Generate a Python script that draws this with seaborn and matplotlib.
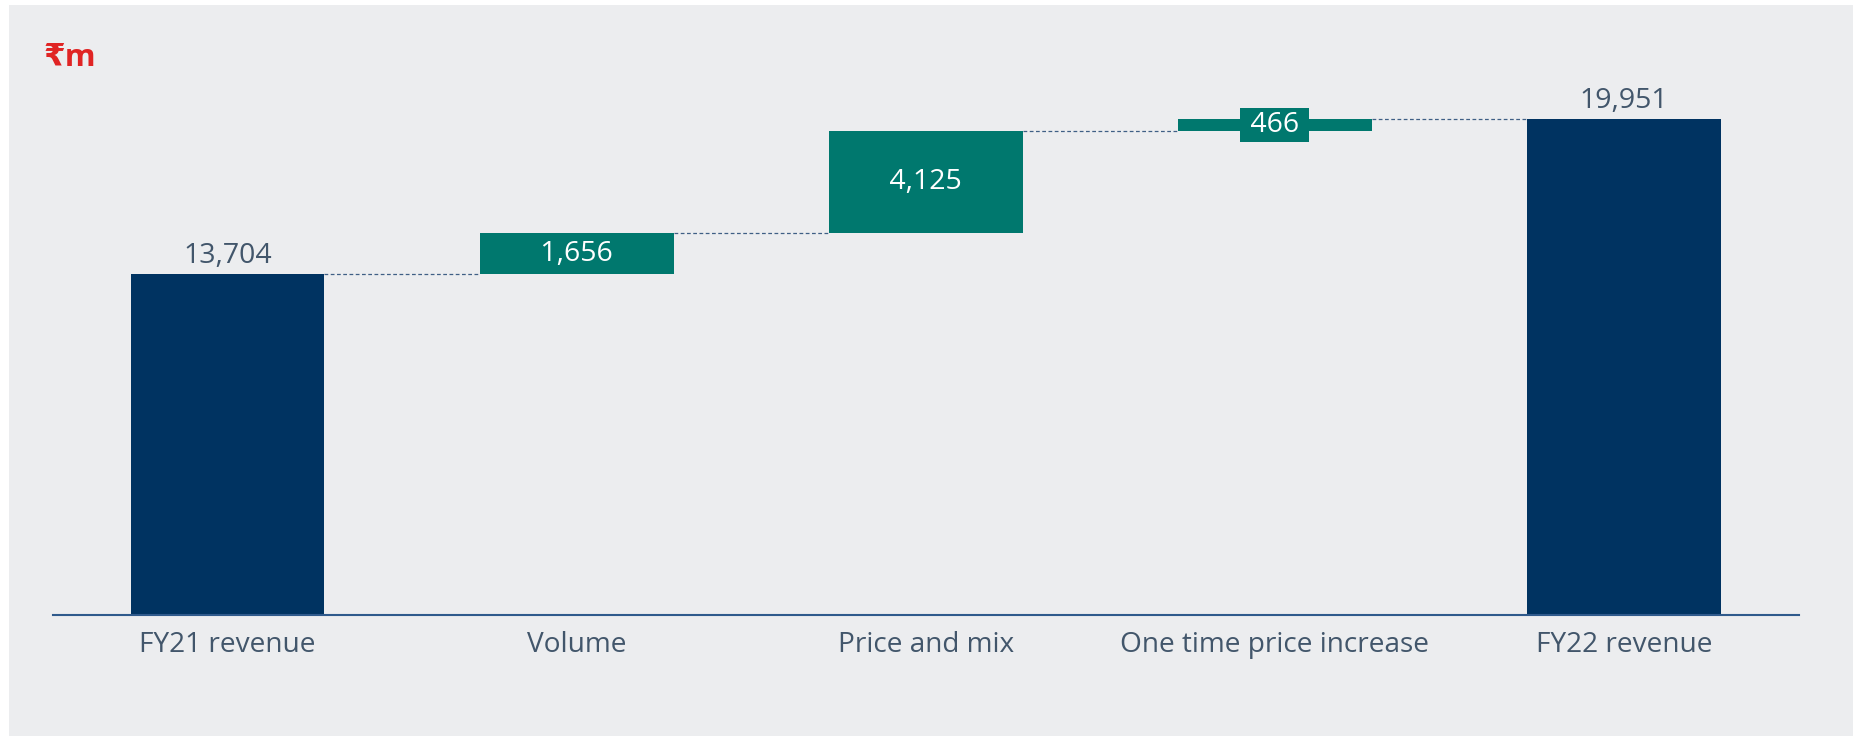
import matplotlib
matplotlib.use("Agg")
import matplotlib.pyplot as plt
from matplotlib.patches import Rectangle
import seaborn as sns

# data
categories = ["FY21 revenue", "Volume", "Price and mix", "One time price increase", "FY22 revenue"]
values = [13704, 1656, 4125, 466, 19951]
is_total = [True, False, False, False, True]

navy = "#003361"
teal = "#00786E"
text_col = "#42566B"
bg = "#ECEDEF"

# waterfall bottoms / heights
bottoms = []
running = 0
for v, tot in zip(values, is_total):
    if tot:
        bottoms.append(0)
        running = v
    else:
        bottoms.append(running)
        running += v
levels = [b + v for b, v in zip(bottoms, values)]

sns.set_theme(style="white")
plt.rcParams["font.family"] = ["Open Sans", "DejaVu Sans"]

fig = plt.figure(figsize=(18.53, 7.36), dpi=100)
fig.patch.set_facecolor("white")
fig.patches.append(Rectangle((9 / 1853, 0), 1, (736 - 5) / 736, transform=fig.transFigure,
                             facecolor=bg, edgecolor="none", zorder=-5))
ax = fig.add_axes([0.0286, 0.165, 0.942, 0.7424])
ax.set_facecolor("none")

sns.barplot(x=categories, y=values, bottom=bottoms, color=navy, saturation=1,
            width=0.555, errorbar=None, ax=ax, zorder=2)
bars = ax.patches
for p, tot in zip(bars, is_total):
    p.set_facecolor(navy if tot else teal)
    p.set_edgecolor("none")

# dashed connectors
for i in range(len(bars) - 1):
    x0 = bars[i].get_x() + bars[i].get_width()
    x1 = bars[i + 1].get_x()
    ax.hlines(levels[i], x0, x1, colors="#3F5F85", linestyles=(0, (3, 2)), linewidth=0.9, zorder=1)

# value labels
for i, (p, v, tot) in enumerate(zip(bars, values, is_total)):
    xc = p.get_x() + p.get_width() / 2
    if tot:
        ax.annotate(f"{v:,}", (xc, levels[i]), xytext=(0, 8), textcoords="offset points",
                    ha="center", va="baseline", fontsize=20.5, color=text_col)
    else:
        ax.text(xc, bottoms[i] + v / 2, f" {v:,} ", ha="center", va="center", fontsize=20.5,
                color="white", zorder=3,
                bbox=dict(boxstyle="square,pad=0.1", facecolor=teal, edgecolor="none"))

ax.set_xlim(-0.5, 4.5)
ax.set_ylim(0, 22000)
ax.set_yticks([])
ax.set_xlabel("")
ax.set_ylabel("")
for s in ["top", "right", "left"]:
    ax.spines[s].set_visible(False)
ax.spines["bottom"].set_color("#2F5A8C")
ax.spines["bottom"].set_linewidth(1.5)
ax.spines["bottom"].set_zorder(4)
ax.tick_params(axis="x", length=0, pad=11.5, labelsize=20.2, labelcolor=text_col)

fig.text(43 / 1853, (736 - 66) / 736, "₹m", fontsize=22.5, fontweight="bold",
         color="#E02424", ha="left", va="baseline")

fig.savefig("out.png", dpi=100, facecolor=fig.get_facecolor())
